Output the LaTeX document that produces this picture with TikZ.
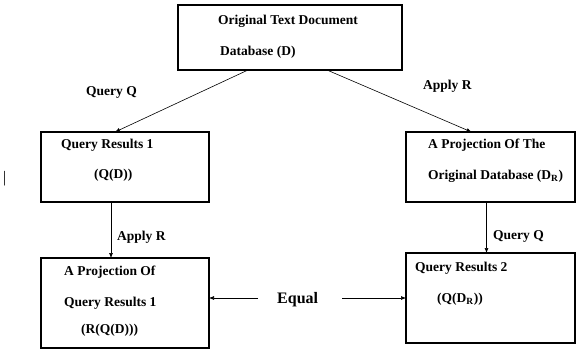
\documentclass[tikz,border=0pt]{standalone}
\usepackage{fontspec}
\setmainfont{Liberation Serif}
\usetikzlibrary{arrows.meta,positioning,calc}

\begin{document}
\begin{tikzpicture}[
  x=1pt,y=-1pt,
  font=\bfseries\fontsize{13.5}{15}\selectfont,
  box/.style={draw,line width=1.6pt,inner sep=0pt,outer sep=0pt},
  txt/.style={anchor=base west,inner sep=0pt},
  arr/.style={-{Latex[length=5pt,width=4pt]},line width=0.6pt},
]
\useasboundingbox (0,0) rectangle (577,349);
% boxes
\node[box,minimum width=224,minimum height=65] (db) at (290,37.5) {};
\node[box,minimum width=168,minimum height=70] (qr1) at (125,167) {};
\node[box,minimum width=169,minimum height=70] (proj) at (490.5,167) {};
\node[box,minimum width=168,minimum height=90] (pqr) at (125,303) {};
\node[box,minimum width=169,minimum height=90] (qr2) at (490.5,298) {};
% texts in the boxes
\node[txt] (dbA) at (218,24) {Original Text Document};
\node[txt] (dbB) at (220,55) {Database (D)};
\node[txt] (qr1A) at (61,148) {Query Results 1};
\node[txt] (qr1B) at (94,178) {(Q(D))};
\node[txt] (projA) at (428,148) {A Projection Of The};
\node[txt] (projB) at (428,179) {Original Database (D\textsubscript{R})};
\node[txt] (pqrA) at (64,275) {A Projection Of};
\node[txt] (pqrB) at (64,306) {Query Results 1};
\node[txt] (pqrC) at (81,333) {(R(Q(D)))};
\node[txt] (qr2A) at (415,271) {Query Results 2};
\node[txt] (qr2B) at (437,302) {(Q(D\textsubscript{R}))};
% labels
\node[txt] (lblQ) at (86,95) {Query Q};
\node[txt] (lblR) at (423,89) {Apply R};
\node[txt] (lblR2) at (117,240) {Apply R};
\node[txt] (lblQ2) at (493,239) {Query Q};
\node[txt,font=\bfseries\fontsize{16}{18}\selectfont] (eq) at (277,303) {Equal};
\node[txt,font=\fontsize{16}{18}\selectfont] (bar) at (3,182) {|};
% connectors
\draw[arr] ([xshift=-42]db.south) -- ([xshift=-10]qr1.north);
\draw[arr] ([xshift=37]db.south) -- ([xshift=-19]proj.north);
\draw[arr] ([xshift=-14]qr1.south) -- ([xshift=-14]pqr.north);
\draw[arr] ([xshift=-4]proj.south) -- ([xshift=-4]qr2.north);
\draw[arr] ([xshift=-19,yshift=5]eq.base west) -- ([yshift=5]eq.base west -| pqr.east);
\draw[arr] ([xshift=24,yshift=5]eq.base east) -- ([yshift=5]eq.base east -| qr2.west);
\end{tikzpicture}
\end{document}
